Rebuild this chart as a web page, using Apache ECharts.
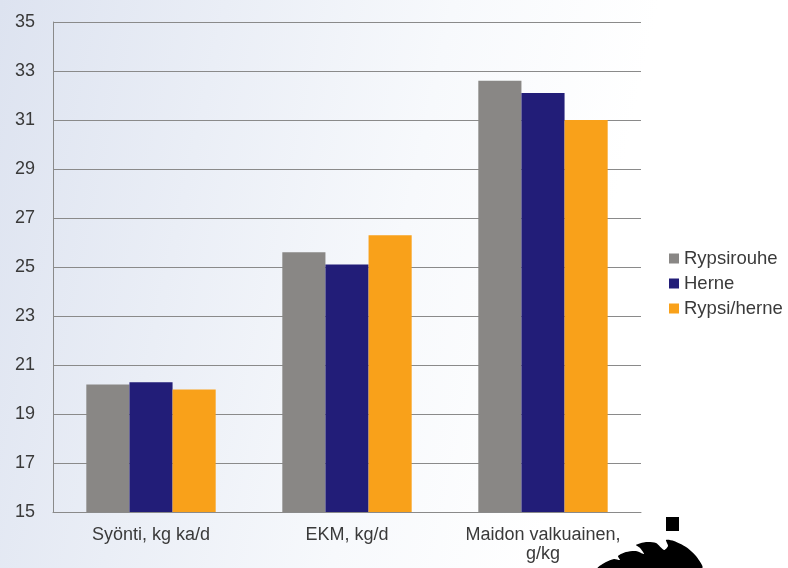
<!DOCTYPE html>
<html>
<head>
<meta charset="utf-8">
<script src="https://cdn.jsdelivr.net/npm/echarts@6/dist/echarts.min.js"></script>
<style>
html,body{margin:0;padding:0;}
#c{width:788px;height:568px;}
</style>
</head>
<body>
<div id="c"></div>
<script>
const categories = ['Syönti, kg ka/d', 'EKM, kg/d', 'Maidon valkuainen,\ng/kg'];
const seriesNames = ['Rypsirouhe', 'Herne', 'Rypsi/herne'];
const rypsirouhe = [20.2, 25.6, 32.6];
const herne = [20.3, 25.1, 32.1];
const rypsiHerne = [20.0, 26.3, 31.0];
const yTicks = {min: 15, max: 35, interval: 2};
const colors = ['#898785', '#221d78', '#f9a11a'];

const chart = echarts.init(document.getElementById('c'));
const values = [rypsirouhe, herne, rypsiHerne];
const font = 'Liberation Sans, Arial';
chart.setOption({
  backgroundColor: {
    type: 'linear', x: 0, y: 0, x2: 1, y2: 0.3,
    colorStops: [
      {offset: 0, color: '#dde3f0'},
      {offset: 0.55, color: '#f7f9fc'},
      {offset: 0.8, color: '#ffffff'},
      {offset: 1, color: '#ffffff'}
    ]
  },
  animation: false,
  grid: {left: 53, right: 147, top: 22, bottom: 56, containLabel: false},
  legend: {
    orient: 'vertical',
    left: 669, top: 249, padding: 0,
    itemWidth: 10, itemHeight: 10, itemGap: 6,
    icon: 'rect',
    textStyle: {fontFamily: font, fontSize: 18.5, color: '#3a3a3a', lineHeight: 18},
    data: seriesNames
  },
  xAxis: {
    type: 'category',
    data: categories,
    axisLine: {lineStyle: {color: '#8a8a8a', width: 1}},
    axisTick: {show: false},
    axisLabel: {fontFamily: font, fontSize: 18, color: '#3a3a3a', margin: 14, lineHeight: 19, interval: 0}
  },
  yAxis: {
    type: 'value',
    min: yTicks.min, max: yTicks.max, interval: yTicks.interval,
    axisLine: {show: true, lineStyle: {color: '#8a8a8a', width: 1}},
    axisTick: {show: false},
    splitLine: {lineStyle: {color: '#8a8a8a', width: 1}},
    axisLabel: {fontFamily: font, fontSize: 18, color: '#3a3a3a', margin: 18}
  },
  series: seriesNames.map((n, i) => ({
    name: n,
    type: 'bar',
    data: values[i],
    barGap: '0%',
    barCategoryGap: '34%',
    itemStyle: {color: colors[i]}
  })),
  graphic: [
    {type: 'rect', shape: {x: 666, y: 517, width: 13, height: 14}, style: {fill: '#000'}},
    {type: 'polygon', shape: {points: [
      [598,568],[606,562],[614,559],[620,560],[618,556],[626,552],[636,551],[644,554],[640,548],[636,545],
      [646,542],[656,543],[664,550],[668,546],[666,540],[674,541],[686,547],[696,556],[702,568]
    ], smooth: 0.25}, style: {fill: '#000'}}
  ]
});
</script>
</body>
</html>
